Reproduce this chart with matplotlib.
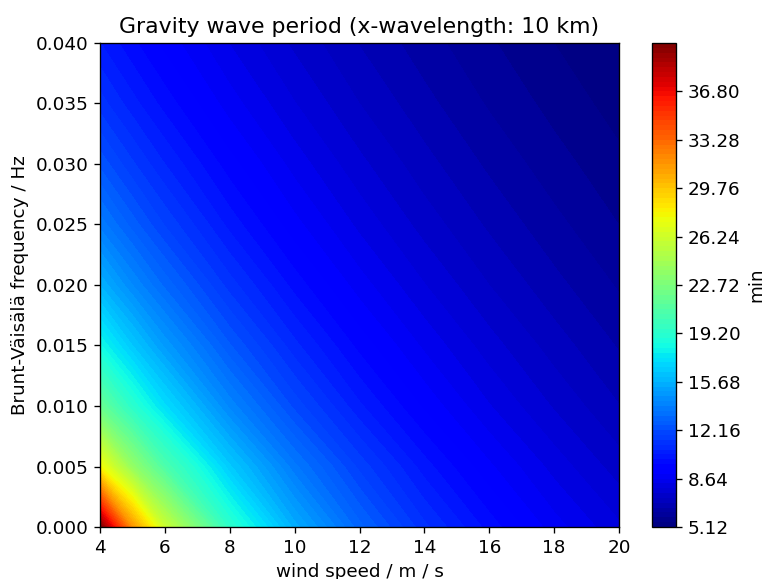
import numpy as np
import matplotlib
matplotlib.use("Agg")
import matplotlib.pyplot as plt

# wind speed / m/s (x) and Brunt-Vaisala frequency / Hz (y)
wind_speed = [4, 5, 6, 8, 10, 12, 14, 16, 18, 20]
bv_freq = [0.0, 0.005, 0.010, 0.015, 0.020, 0.025, 0.030, 0.035, 0.040]

# period in min, one row per Brunt-Vaisala frequency
period_n000 = [40.32, 31.50, 26.00, 19.30, 15.50, 13.00, 11.20, 9.90, 8.80, 8.00]
period_n005 = [27.81, 23.72, 20.68, 16.46, 13.67, 11.69, 10.21, 9.06, 8.15, 7.40]
period_n010 = [21.80, 19.20, 17.16, 14.15, 12.04, 10.47, 9.27, 8.31, 7.54, 6.89]
period_n015 = [18.23, 16.38, 14.87, 12.55, 10.86, 9.57, 8.56, 7.74, 7.06, 6.49]
period_n020 = [15.66, 14.27, 13.11, 11.28, 9.90, 8.81, 7.95, 7.23, 6.64, 6.13]
period_n025 = [13.79, 12.70, 11.77, 10.27, 9.11, 8.19, 7.43, 6.81, 6.28, 5.82]
period_n030 = [12.41, 11.52, 10.75, 9.49, 8.49, 7.68, 7.01, 6.45, 5.97, 5.56]
period_n035 = [11.28, 10.54, 9.90, 8.81, 7.95, 7.23, 6.64, 6.13, 5.70, 5.32]
period_n040 = [10.41, 9.78, 9.22, 8.27, 7.50, 6.86, 6.33, 5.87, 5.47, 5.12]

period = np.array([period_n000, period_n005, period_n010, period_n015, period_n020,
                   period_n025, period_n030, period_n035, period_n040])

plt.rcParams['font.size'] = 11

fig = plt.figure(figsize=(764 / 120, 579 / 120), dpi=120)
ax = fig.add_axes([100 / 764, 52 / 579, 519 / 764, 484 / 579])
cax = fig.add_axes([652 / 764, 52 / 579, 24 / 764, 484 / 579])

levels = np.linspace(5.12, 40.32, 101)  # fine levels -> smooth look
cf = ax.contourf(wind_speed, bv_freq, period, levels=levels, cmap='jet')

ax.set_xlim(4, 20)
ax.set_ylim(0, 0.04)
ax.set_xticks([4, 6, 8, 10, 12, 14, 16, 18, 20])
ax.set_yticks([0.0, 0.005, 0.010, 0.015, 0.020, 0.025, 0.030, 0.035, 0.040])
ax.set_yticklabels(['%.3f' % v for v in ax.get_yticks()])
ax.set_xlabel('wind speed / m / s')
ax.set_ylabel('Brunt-Väisälä frequency / Hz')
ax.set_title('Gravity wave period (x-wavelength: 10 km)')

cbar = fig.colorbar(cf, cax=cax)
cbar.set_ticks(levels[:100:10])
cbar.set_ticklabels(['%.2f' % v for v in levels[:100:10]])
cbar.set_label('min')

fig.savefig('out.png', dpi=120)
